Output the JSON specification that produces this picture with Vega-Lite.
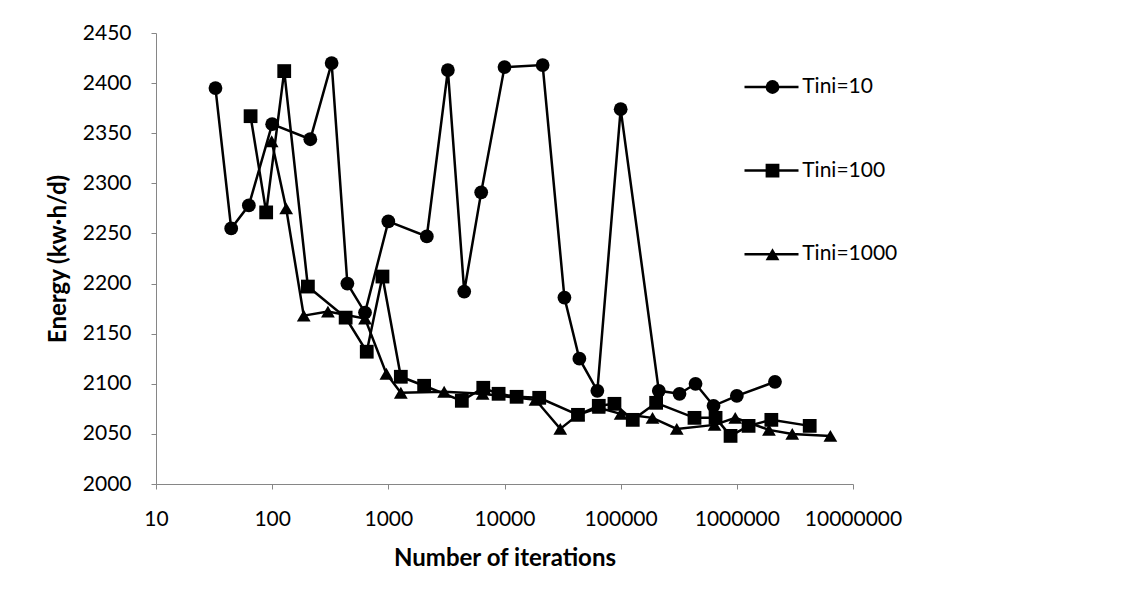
{
  "$schema": "https://vega.github.io/schema/vega-lite/v6.json",
  "width": 697,
  "height": 451,
  "autosize": {"type": "none"},
  "padding": {"left": 156, "top": 33, "right": 279, "bottom": 124},
  "background": "white",
  "config": {
    "view": {"stroke": null},
    "font": "Lato",
    "axis": {
      "grid": false,
      "domainColor": "#868686",
      "tickColor": "#868686",
      "tickSize": 5,
      "labelFont": "Lato",
      "labelFontSize": 21,
      "labelColor": "black",
      "titleFont": "Lato",
      "titleFontSize": 24,
      "titleFontWeight": "bold",
      "titleColor": "black"
    },
    "legend": {"labelFont": "Lato", "labelFontSize": 21, "labelColor": "black"}
  },
  "data": {
    "values": [
      {"series": "Tini=10", "iterations": 32.5, "energy": 2395},
      {"series": "Tini=10", "iterations": 44.4, "energy": 2255},
      {"series": "Tini=10", "iterations": 63, "energy": 2278},
      {"series": "Tini=10", "iterations": 100, "energy": 2359},
      {"series": "Tini=10", "iterations": 213, "energy": 2344},
      {"series": "Tini=10", "iterations": 325, "energy": 2420},
      {"series": "Tini=10", "iterations": 444, "energy": 2200},
      {"series": "Tini=10", "iterations": 630, "energy": 2171},
      {"series": "Tini=10", "iterations": 1000, "energy": 2262},
      {"series": "Tini=10", "iterations": 2144, "energy": 2247},
      {"series": "Tini=10", "iterations": 3256, "energy": 2413},
      {"series": "Tini=10", "iterations": 4500, "energy": 2192},
      {"series": "Tini=10", "iterations": 6300, "energy": 2291},
      {"series": "Tini=10", "iterations": 10000, "energy": 2416},
      {"series": "Tini=10", "iterations": 21300, "energy": 2418},
      {"series": "Tini=10", "iterations": 32800, "energy": 2186},
      {"series": "Tini=10", "iterations": 44100, "energy": 2125},
      {"series": "Tini=10", "iterations": 63000, "energy": 2093},
      {"series": "Tini=10", "iterations": 100000, "energy": 2374},
      {"series": "Tini=10", "iterations": 213000, "energy": 2093},
      {"series": "Tini=10", "iterations": 321000, "energy": 2090},
      {"series": "Tini=10", "iterations": 441000, "energy": 2100},
      {"series": "Tini=10", "iterations": 630000, "energy": 2078},
      {"series": "Tini=10", "iterations": 1000000, "energy": 2088},
      {"series": "Tini=10", "iterations": 2130000, "energy": 2102},
      {"series": "Tini=100", "iterations": 65.2, "energy": 2367},
      {"series": "Tini=100", "iterations": 88.8, "energy": 2271},
      {"series": "Tini=100", "iterations": 127, "energy": 2412},
      {"series": "Tini=100", "iterations": 203, "energy": 2197},
      {"series": "Tini=100", "iterations": 429, "energy": 2166},
      {"series": "Tini=100", "iterations": 652, "energy": 2132},
      {"series": "Tini=100", "iterations": 890, "energy": 2207},
      {"series": "Tini=100", "iterations": 1281, "energy": 2107},
      {"series": "Tini=100", "iterations": 2033, "energy": 2098},
      {"series": "Tini=100", "iterations": 4293, "energy": 2083},
      {"series": "Tini=100", "iterations": 6566, "energy": 2096},
      {"series": "Tini=100", "iterations": 8898, "energy": 2090},
      {"series": "Tini=100", "iterations": 12712, "energy": 2087},
      {"series": "Tini=100", "iterations": 19900, "energy": 2086},
      {"series": "Tini=100", "iterations": 42900, "energy": 2069},
      {"series": "Tini=100", "iterations": 64800, "energy": 2078},
      {"series": "Tini=100", "iterations": 88400, "energy": 2080},
      {"series": "Tini=100", "iterations": 127100, "energy": 2064},
      {"series": "Tini=100", "iterations": 202000, "energy": 2081},
      {"series": "Tini=100", "iterations": 432000, "energy": 2066},
      {"series": "Tini=100", "iterations": 656000, "energy": 2066},
      {"series": "Tini=100", "iterations": 883000, "energy": 2048},
      {"series": "Tini=100", "iterations": 1262000, "energy": 2058},
      {"series": "Tini=100", "iterations": 1982000, "energy": 2064},
      {"series": "Tini=100", "iterations": 4239000, "energy": 2058},
      {"series": "Tini=1000", "iterations": 99, "energy": 2342},
      {"series": "Tini=1000", "iterations": 132, "energy": 2275},
      {"series": "Tini=1000", "iterations": 187, "energy": 2168},
      {"series": "Tini=1000", "iterations": 302, "energy": 2172},
      {"series": "Tini=1000", "iterations": 630, "energy": 2165},
      {"series": "Tini=1000", "iterations": 962, "energy": 2110},
      {"series": "Tini=1000", "iterations": 1281, "energy": 2091},
      {"series": "Tini=1000", "iterations": 3024, "energy": 2092},
      {"series": "Tini=1000", "iterations": 6478, "energy": 2090},
      {"series": "Tini=1000", "iterations": 18500, "energy": 2084},
      {"series": "Tini=1000", "iterations": 30200, "energy": 2055},
      {"series": "Tini=1000", "iterations": 42900, "energy": 2069},
      {"series": "Tini=1000", "iterations": 64800, "energy": 2076},
      {"series": "Tini=1000", "iterations": 100000, "energy": 2070},
      {"series": "Tini=1000", "iterations": 188000, "energy": 2066},
      {"series": "Tini=1000", "iterations": 304000, "energy": 2055},
      {"series": "Tini=1000", "iterations": 643000, "energy": 2059},
      {"series": "Tini=1000", "iterations": 969000, "energy": 2066},
      {"series": "Tini=1000", "iterations": 1890000, "energy": 2054},
      {"series": "Tini=1000", "iterations": 3000000, "energy": 2050},
      {"series": "Tini=1000", "iterations": 6386000, "energy": 2048}
    ]
  },
  "encoding": {
    "x": {
      "field": "iterations",
      "type": "quantitative",
      "scale": {"type": "log", "domain": [10, 10000000], "nice": false},
      "axis": {
        "title": "Number of iterations",
        "values": [10, 100, 1000, 10000, 100000, 1000000, 10000000],
        "format": "d",
        "labelFlush": false,
        "labelOverlap": false,
        "labelPadding": 19,
        "titlePadding": 17
      }
    },
    "y": {
      "field": "energy",
      "type": "quantitative",
      "scale": {"domain": [2000, 2450], "nice": false, "zero": false},
      "axis": {
        "title": "Energy (kw·h/d)",
        "values": [2000, 2050, 2100, 2150, 2200, 2250, 2300, 2350, 2400, 2450],
        "format": "d",
        "labelPadding": 20,
        "titlePadding": 12
      }
    }
  },
  "layer": [
    {
      "transform": [{"filter": "datum.energy > 0"}],
      "mark": {"type": "line", "strokeWidth": 2.5},
      "encoding": {
        "color": {
          "field": "series",
          "type": "nominal",
          "scale": {"range": ["black", "black", "black"]},
          "legend": {
            "title": null,
            "orient": "none",
            "legendX": 587,
            "legendY": 42,
            "padding": 0,
            "symbolType": "stroke",
            "symbolSize": 2916,
            "symbolStrokeWidth": 2.5,
            "symbolStrokeColor": "black",
            "clipHeight": 24,
            "rowPadding": 59.6,
            "labelExpr": "''"
          }
        }
      }
    },
    {
      "mark": {"type": "point", "filled": true, "opacity": 1, "color": "black", "size": 190},
      "encoding": {
        "shape": {
          "field": "series",
          "type": "nominal",
          "scale": {"range": ["circle", "square", "triangle-up"]},
          "legend": {
            "title": null,
            "orient": "none",
            "legendX": 587,
            "legendY": 42,
            "padding": 0,
            "symbolSize": 190,
            "symbolFillColor": "black",
            "symbolStrokeWidth": 0,
            "symbolOpacity": 1,
            "symbolOffset": 19,
            "labelOffset": 19.25,
            "clipHeight": 24,
            "rowPadding": 59.6
          }
        }
      }
    }
  ]
}
